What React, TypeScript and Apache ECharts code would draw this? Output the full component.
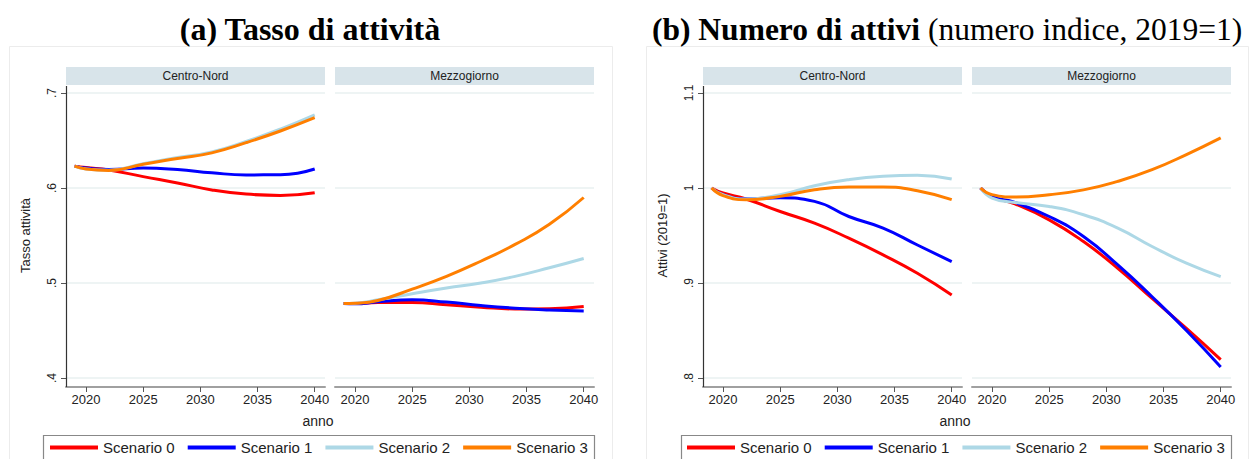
import React, { useEffect, useRef } from "react";
import * as echarts from "echarts";

// ---------- data ----------
const YEARS = [2019, 2020, 2022, 2025, 2028, 2031, 2034, 2037, 2040];
const SCENARIOS = ["Scenario 0", "Scenario 1", "Scenario 2", "Scenario 3"];
const COLORS = ["#ff0000", "#0000ff", "#add8e6", "#ff7f00"];
const X_TICKS = [2020, 2025, 2030, 2035, 2040];
const PANEL_NAMES = ["Centro-Nord", "Mezzogiorno"];

// (a) Tasso di attività – Centro-Nord
const tassoCN_S0 = [0.623, 0.6215, 0.619, 0.612, 0.6053, 0.598, 0.5936, 0.5922, 0.595];
const tassoCN_S1 = [0.623, 0.621, 0.6195, 0.621, 0.6194, 0.616, 0.6138, 0.614, 0.62];
const tassoCN_S2 = [0.623, 0.62, 0.6187, 0.6255, 0.632, 0.638, 0.649, 0.662, 0.677];
const tassoCN_S3 = [0.623, 0.62, 0.6185, 0.625, 0.631, 0.637, 0.6477, 0.66, 0.674];
// (a) Tasso di attività – Mezzogiorno
const tassoMZ_S0 = [0.4785, 0.4785, 0.4795, 0.4795, 0.477, 0.4745, 0.4727, 0.473, 0.4752];
const tassoMZ_S1 = [0.4785, 0.4781, 0.4802, 0.4823, 0.4799, 0.4763, 0.4735, 0.4717, 0.4706];
const tassoMZ_S2 = [0.4785, 0.4788, 0.4823, 0.4887, 0.4947, 0.5, 0.507, 0.516, 0.5258];
const tassoMZ_S3 = [0.4785, 0.4788, 0.4816, 0.4936, 0.507, 0.5229, 0.5406, 0.5618, 0.59];
// (b) Numero di attivi – Centro-Nord
const attiviCN_S0 = [1.0, 0.9947, 0.9884, 0.9753, 0.963, 0.9472, 0.9296, 0.9102, 0.8873];
const attiviCN_S1 = [1.0, 0.993, 0.9887, 0.9898, 0.9859, 0.97, 0.9578, 0.94, 0.9225];
const attiviCN_S2 = [1.0, 0.993, 0.9884, 0.9929, 1.0024, 1.0088, 1.0123, 1.0133, 1.0095];
const attiviCN_S3 = [1.0, 0.992, 0.9877, 0.9912, 0.9982, 1.001, 1.001, 0.9971, 0.9877];
// (b) Numero di attivi – Mezzogiorno
const attiviMZ_S0 = [1.0, 0.991, 0.9834, 0.9665, 0.9436, 0.9155, 0.8838, 0.8522, 0.8194];
const attiviMZ_S1 = [1.0, 0.991, 0.9848, 0.97, 0.9489, 0.919, 0.8855, 0.85, 0.8116];
const attiviMZ_S2 = [1.0, 0.9894, 0.9848, 0.9806, 0.9718, 0.9578, 0.9384, 0.9208, 0.9067];
const attiviMZ_S3 = [1.0, 0.993, 0.9905, 0.993, 0.998, 1.007, 1.0193, 1.0352, 1.0528];

const PANELS = [
  { series: [tassoCN_S0, tassoCN_S1, tassoCN_S2, tassoCN_S3], min: 0.4, max: 0.7, first: true, yName: "Tasso attività" },
  { series: [tassoMZ_S0, tassoMZ_S1, tassoMZ_S2, tassoMZ_S3], min: 0.4, max: 0.7, first: false, yName: "" },
  { series: [attiviCN_S0, attiviCN_S1, attiviCN_S2, attiviCN_S3], min: 0.8, max: 1.1, first: true, yName: "Attivi (2019=1)" },
  { series: [attiviMZ_S0, attiviMZ_S1, attiviMZ_S2, attiviMZ_S3], min: 0.8, max: 1.1, first: false, yName: "" },
];

// ---------- layout ----------
const PANEL_LEFT = [66, 335, 703, 972];
const PANEL_W = 259;
const GRID_TOP = 93;
const GRID_H = 285;
const SANS = "'Liberation Sans', Arial, sans-serif";
const SERIF = "'Liberation Serif', 'Times New Roman', serif";

const fmtTick = (v: number) => {
  const r = Math.round(v * 10) / 10;
  return String(r).replace(/^0\./, ".");
};

export default function App() {
  const ref = useRef<HTMLDivElement>(null);
  useEffect(() => {
    if (!ref.current) return;
    const chart = echarts.init(ref.current, null, { renderer: "svg" });

    const grids = PANEL_LEFT.map((l) => ({ left: l, top: GRID_TOP, width: PANEL_W, height: GRID_H }));
    const xAxes = PANEL_LEFT.map((_, i) => ({
      type: "value",
      gridIndex: i,
      min: 2018.25,
      max: 2040.9,
      offset: 9,
      axisLine: { show: true, lineStyle: { color: "#a0a0a0", width: 2 } },
      axisTick: { show: true, length: 5, customValues: X_TICKS, lineStyle: { color: "#555" } },
      axisLabel: {
        customValues: X_TICKS,
        formatter: (v: number) => String(Math.round(v)),
        fontSize: 13,
        color: "#222",
        fontFamily: SANS,
        margin: 6,
      },
      splitLine: { show: false },
    }));
    const yAxes = PANELS.map((p, i) => ({
      type: "value",
      gridIndex: i,
      min: p.min,
      max: p.max,
      interval: 0.1,
      name: p.yName,
      nameLocation: "middle",
      nameGap: 34,
      nameRotate: 90,
      nameTextStyle: { fontSize: 13, color: "#222", fontFamily: SANS },
      axisLine: { show: false },
      axisTick: { show: p.first, length: 5, lineStyle: { color: "#555" } },
      axisLabel: {
        show: p.first,
        rotate: 90,
        formatter: fmtTick,
        fontSize: 12,
        color: "#222",
        fontFamily: SANS,
        margin: 8,
      },
      splitLine: { show: true, lineStyle: { color: "#e8f0f1", width: 1.5 } },
    }));

    const series: any[] = [];
    PANELS.forEach((p, pi) => {
      p.series.forEach((vals, si) => {
        series.push({
          type: "line",
          name: SCENARIOS[si],
          xAxisIndex: pi,
          yAxisIndex: pi,
          data: YEARS.map((y, k) => [y, vals[k]]),
          smooth: 0.5,
          showSymbol: false,
          symbol: "none",
          lineStyle: { color: COLORS[si], width: 3 },
          itemStyle: { color: COLORS[si] },
          z: 3,
        });
      });
    });

    const legendCommon = {
      data: SCENARIOS,
      icon: "rect",
      itemWidth: 48,
      itemHeight: 4,
      itemGap: 13,
      top: 440,
      padding: 0,
      selectedMode: false,
      textStyle: { fontSize: 15, color: "#222", fontFamily: SANS },
      z: 10,
    };

    const graphics: any[] = [];
    // outer frames
    graphics.push({ type: "rect", shape: { x: 9.5, y: 46.5, width: 603, height: 440 }, style: { fill: "#fff", stroke: "#ececec", lineWidth: 1 }, z: -10 });
    graphics.push({ type: "rect", shape: { x: 646.5, y: 46.5, width: 602, height: 440 }, style: { fill: "#fff", stroke: "#ececec", lineWidth: 1 }, z: -10 });
    // titles
    graphics.push({
      type: "text",
      x: 310,
      y: 29,
      style: { text: "(a) Tasso di attività", font: `bold 32px ${SERIF}`, fill: "#000", align: "center", verticalAlign: "middle" },
    });
    graphics.push({
      type: "text",
      x: 652,
      y: 29,
      style: {
        text: "{b|(b) Numero di attivi}{n| (numero indice, 2019=1)}",
        verticalAlign: "middle",
        align: "left",
        rich: {
          b: { fontFamily: SERIF, fontSize: 31.5, fontWeight: "bold", fill: "#000" },
          n: { fontFamily: SERIF, fontSize: 31.5, fontWeight: "normal", fill: "#000" },
        },
      },
    });
    // strips
    PANEL_LEFT.forEach((l, i) => {
      graphics.push({ type: "rect", shape: { x: l, y: 67, width: PANEL_W, height: 18 }, style: { fill: "#d8e4ea" }, z: 1 });
      graphics.push({
        type: "text",
        x: l + PANEL_W / 2,
        y: 76,
        style: { text: PANEL_NAMES[i % 2], font: `12px ${SANS}`, fill: "#222", align: "center", verticalAlign: "middle" },
        z: 2,
      });
    });
    // y axis lines
    [66, 703].forEach((x) => {
      graphics.push({ type: "line", shape: { x1: x + 0.5, y1: 86, x2: x + 0.5, y2: 387 }, style: { stroke: "#333", lineWidth: 1.2 }, z: 2 });
    });
    // x axis titles
    graphics.push({ type: "text", x: 318, y: 421, style: { text: "anno", font: `14px ${SANS}`, fill: "#222", align: "center", verticalAlign: "middle" } });
    graphics.push({ type: "text", x: 955, y: 421, style: { text: "anno", font: `14px ${SANS}`, fill: "#222", align: "center", verticalAlign: "middle" } });
    // legend boxes
    graphics.push({ type: "rect", shape: { x: 43.5, y: 435.5, width: 551, height: 40 }, style: { fill: "#fff", stroke: "#888", lineWidth: 1.2 }, z: 0 });
    graphics.push({ type: "rect", shape: { x: 681.5, y: 435.5, width: 550, height: 40 }, style: { fill: "#fff", stroke: "#888", lineWidth: 1.2 }, z: 0 });

    chart.setOption({
      animation: false,
      backgroundColor: "#fff",
      grid: grids,
      xAxis: xAxes,
      yAxis: yAxes,
      series,
      legend: [
        { ...legendCommon, left: 50 },
        { ...legendCommon, left: 687 },
      ],
      graphic: { elements: graphics },
    });
    return () => chart.dispose();
  }, []);
  return <div ref={ref} style={{ position: "fixed", left: 0, top: 0, width: 1250, height: 459 }} />;
}
